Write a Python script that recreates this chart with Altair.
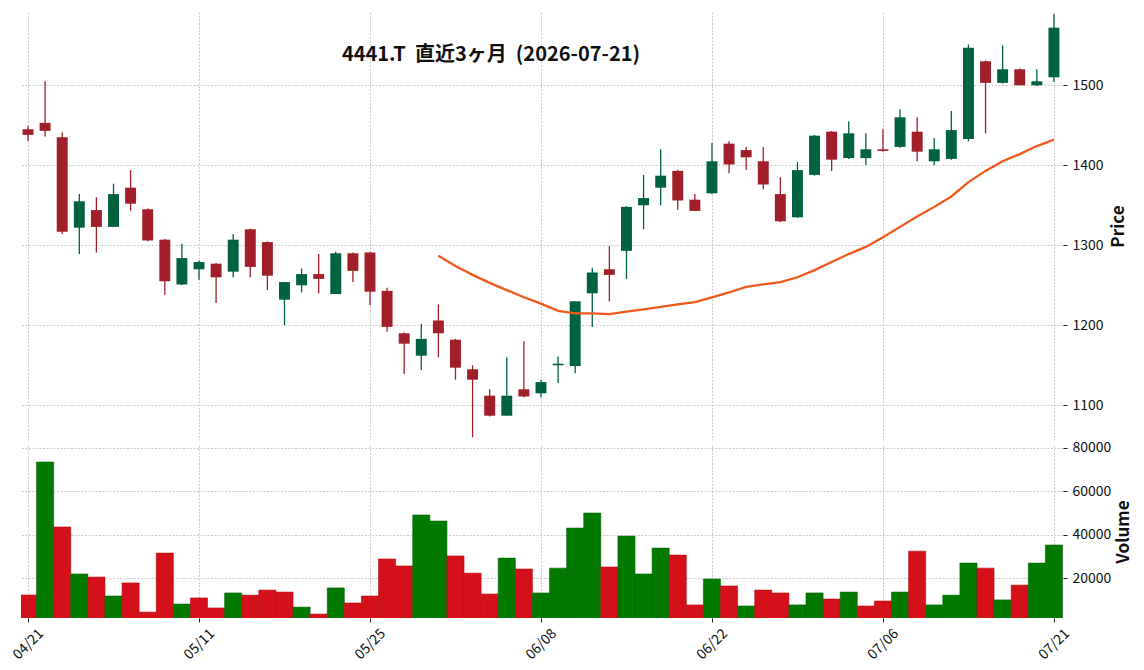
import json
import altair as alt
import pandas as pd

TITLE = "4441.T\u00a0 直近3ヶ月\u00a0 (2026-07-21)"

dates = ["04/21", "04/22", "04/23", "04/24", "04/27", "04/28", "04/30", "05/01", "05/07", "05/08",
         "05/11", "05/12", "05/13", "05/14", "05/15", "05/18", "05/19", "05/20", "05/21", "05/22",
         "05/25", "05/26", "05/27", "05/28", "05/29", "06/01", "06/02", "06/03", "06/04", "06/05",
         "06/08", "06/09", "06/10", "06/11", "06/12", "06/15", "06/16", "06/17", "06/18", "06/19",
         "06/22", "06/23", "06/24", "06/25", "06/26", "06/29", "06/30", "07/01", "07/02", "07/03",
         "07/06", "07/07", "07/08", "07/09", "07/10", "07/13", "07/14", "07/15", "07/16", "07/17",
         "07/21"]

opens = [1445, 1453, 1435, 1322, 1344, 1323, 1372, 1345, 1307, 1251,
         1270, 1277, 1267, 1320, 1304, 1232, 1250, 1264, 1239, 1290,
         1291, 1243, 1190, 1162, 1206, 1182, 1145, 1112, 1087, 1120,
         1115, 1150, 1149, 1240, 1270, 1293, 1350, 1372, 1393, 1357,
         1365, 1427, 1419, 1405, 1364, 1335, 1388, 1442, 1409, 1409,
         1420, 1423, 1442, 1405, 1408, 1433, 1530, 1503, 1520, 1500,
         1510]
highs = [1449, 1505, 1441, 1364, 1360, 1377, 1394, 1346, 1308, 1302,
         1281, 1278, 1314, 1321, 1305, 1254, 1271, 1289, 1292, 1291,
         1292, 1247, 1191, 1202, 1226, 1183, 1150, 1120, 1160, 1180,
         1132, 1161, 1230, 1272, 1299, 1349, 1388, 1420, 1394, 1364,
         1428, 1430, 1423, 1423, 1385, 1404, 1438, 1443, 1455, 1440,
         1445, 1470, 1460, 1434, 1468, 1551, 1531, 1550, 1521, 1520,
         1589]
lows = [1430, 1436, 1314, 1289, 1291, 1323, 1343, 1305, 1238, 1250,
        1257, 1228, 1260, 1260, 1244, 1200, 1241, 1240, 1239, 1254,
        1225, 1192, 1139, 1144, 1160, 1132, 1060, 1086, 1087, 1110,
        1110, 1128, 1140, 1198, 1230, 1258, 1320, 1350, 1344, 1343,
        1364, 1390, 1394, 1370, 1329, 1334, 1387, 1393, 1408, 1400,
        1417, 1422, 1405, 1400, 1407, 1430, 1440, 1502, 1500, 1499,
        1504]
closes = [1438, 1443, 1317, 1355, 1323, 1364, 1352, 1306, 1255, 1284,
          1279, 1260, 1307, 1273, 1262, 1254, 1264, 1258, 1290, 1268,
          1242, 1198, 1177, 1183, 1190, 1147, 1132, 1087, 1112, 1111,
          1129, 1152, 1230, 1266, 1263, 1348, 1359, 1387, 1356, 1343,
          1405, 1401, 1410, 1376, 1330, 1394, 1437, 1407, 1440, 1420,
          1418, 1460, 1417, 1420, 1444, 1547, 1503, 1520, 1500, 1505,
          1572]
volumes = [12350, 73400, 43600, 22000, 20600, 11900, 17900, 4500, 31600, 8200,
           11000, 6400, 13300, 12300, 14600, 13700, 6800, 3600, 15600, 8700,
           11900, 28900, 25700, 49100, 46300, 30300, 22400, 12800, 29300, 24300,
           13300, 24700, 43100, 50000, 25200, 39400, 22000, 33900, 30700, 7800,
           19700, 16500, 7300, 14600, 13300, 7800, 13300, 10500, 13700, 7300,
           9600, 13700, 32500, 7800, 12300, 27000, 24700, 10100, 16900, 27000,
           35300]
ma25 = [None] * 24 + [1287, 1274, 1263, 1253, 1244, 1235, 1227, 1218, 1215, 1215,
                      1214, 1217, 1220, 1223, 1226, 1229, 1235, 1241, 1248, 1251,
                      1254, 1260, 1269, 1279, 1289, 1298, 1310, 1323, 1336, 1348,
                      1361, 1379, 1393, 1405, 1414, 1424, 1432]

tick_idx = [0, 10, 20, 30, 40, 50, 60]

n = len(dates)
rows = []
for i in range(n):
    up = closes[i] >= opens[i]
    vup = closes[i] >= (closes[i - 1] if i > 0 else opens[i])
    rows.append({"idx": i, "date": dates[i], "open": opens[i], "high": highs[i],
                 "low": lows[i], "close": closes[i], "volume": volumes[i],
                 "dir": "up" if up else "down", "vdir": "vup" if vup else "vdown",
                 "ma": ma25[i]})
df = pd.DataFrame(rows)
ma_df = df[df["ma"].notna()][["idx", "ma"]]

FONT = "Noto Sans CJK JP"
W = 1042
H_PRICE = 428
H_VOL = 173
XDOM = [-0.41, 60.53]

label_expr = json.dumps(dates) + "[round(datum.value)]"

x_top = alt.X("idx:Q", scale=alt.Scale(domain=XDOM, nice=False, zero=False),
              axis=alt.Axis(values=tick_idx, labels=False, ticks=False, title=None, grid=True))
x_bot = alt.X("x0:Q", scale=alt.Scale(domain=XDOM, nice=False, zero=False),
              axis=alt.Axis(values=tick_idx, labelExpr=label_expr, title=None, grid=True,
                            labelAngle=315, labelAlign="center", labelBaseline="middle",
                            labelPadding=22, ticks=True, labelFontSize=14))

candle_color = alt.Color("dir:N", scale=alt.Scale(domain=["up", "down"], range=["#006340", "#a11f2a"]),
                         legend=None)
y_price = alt.Y("low:Q", scale=alt.Scale(domain=[1056.6, 1591.6], nice=False, zero=False),
                axis=alt.Axis(orient="right", values=[1100, 1200, 1300, 1400, 1500], title="Price",
                              format="d", titleAngle=270, titleBaseline="top", titlePadding=7))

base = alt.Chart(df)
wicks = base.mark_rule(strokeWidth=1.3).encode(
    x=x_top, y=y_price, y2="high:Q", color=candle_color)
bodies = base.transform_calculate(
    xl="datum.idx - 0.32", xr="datum.idx + 0.32"
).mark_rect().encode(
    x=alt.X("xl:Q", scale=alt.Scale(domain=XDOM, nice=False, zero=False)),
    x2="xr:Q",
    y=alt.Y("open:Q"), y2="close:Q", color=candle_color)
ma_line = alt.Chart(ma_df).mark_line(color="#f0581c", strokeWidth=2.3).encode(
    x=alt.X("idx:Q"), y=alt.Y("ma:Q"))
title_txt = alt.Chart(pd.DataFrame({"t": [TITLE]})).mark_text(
    font=FONT, fontSize=20, fontWeight="bold", color="#111", align="center", baseline="middle"
).encode(text="t:N", x=alt.value(470), y=alt.value(43))

top = alt.layer(wicks, bodies, ma_line, title_txt).properties(width=W, height=H_PRICE)

vol_fill = alt.Fill("vdir:N", scale=alt.Scale(domain=["vup", "vdown"], range=["#027a02", "#d4101a"]),
                    legend=None)
vol_stroke = alt.Stroke("vdir:N", scale=alt.Scale(domain=["vup", "vdown"], range=["#016401", "#b30d15"]),
                        legend=None)
vol = alt.Chart(df).transform_calculate(
    x0="datum.idx - 0.5", x1="datum.idx + 0.5"
).mark_rect(clip=True, strokeWidth=0.6).encode(
    x=x_bot, x2="x1:Q",
    y=alt.Y("volume:Q", scale=alt.Scale(domain=[1800, 81240], nice=False, zero=False),
            axis=alt.Axis(orient="right", values=[20000, 40000, 60000, 80000], title="Volume",
                          format="d", titleAngle=270, titleBaseline="top", titlePadding=5)),
    y2=alt.datum(0),
    fill=vol_fill, stroke=vol_stroke)
bottom = vol.properties(width=W, height=H_VOL)

chart = alt.vconcat(top, bottom, spacing=0).resolve_scale(
    color="independent", fill="independent", stroke="independent"
).properties(
    padding={"left": 10, "top": 12, "right": 10, "bottom": 0}
).configure_view(stroke=None).configure_axis(
    domain=False, gridColor="#bdbdbd", gridDash=[2, 1.5], gridWidth=0.8,
    tickColor="#222", tickSize=4, tickWidth=1,
    labelFont=FONT, labelFontSize=14, labelColor="#111", labelPadding=5,
    titleFont=FONT, titleFontSize=17, titleFontWeight="bold", titleColor="#111"
).configure_concat(spacing=0)

chart.save("out.html", embed_options={"renderer": "svg", "actions": False})
